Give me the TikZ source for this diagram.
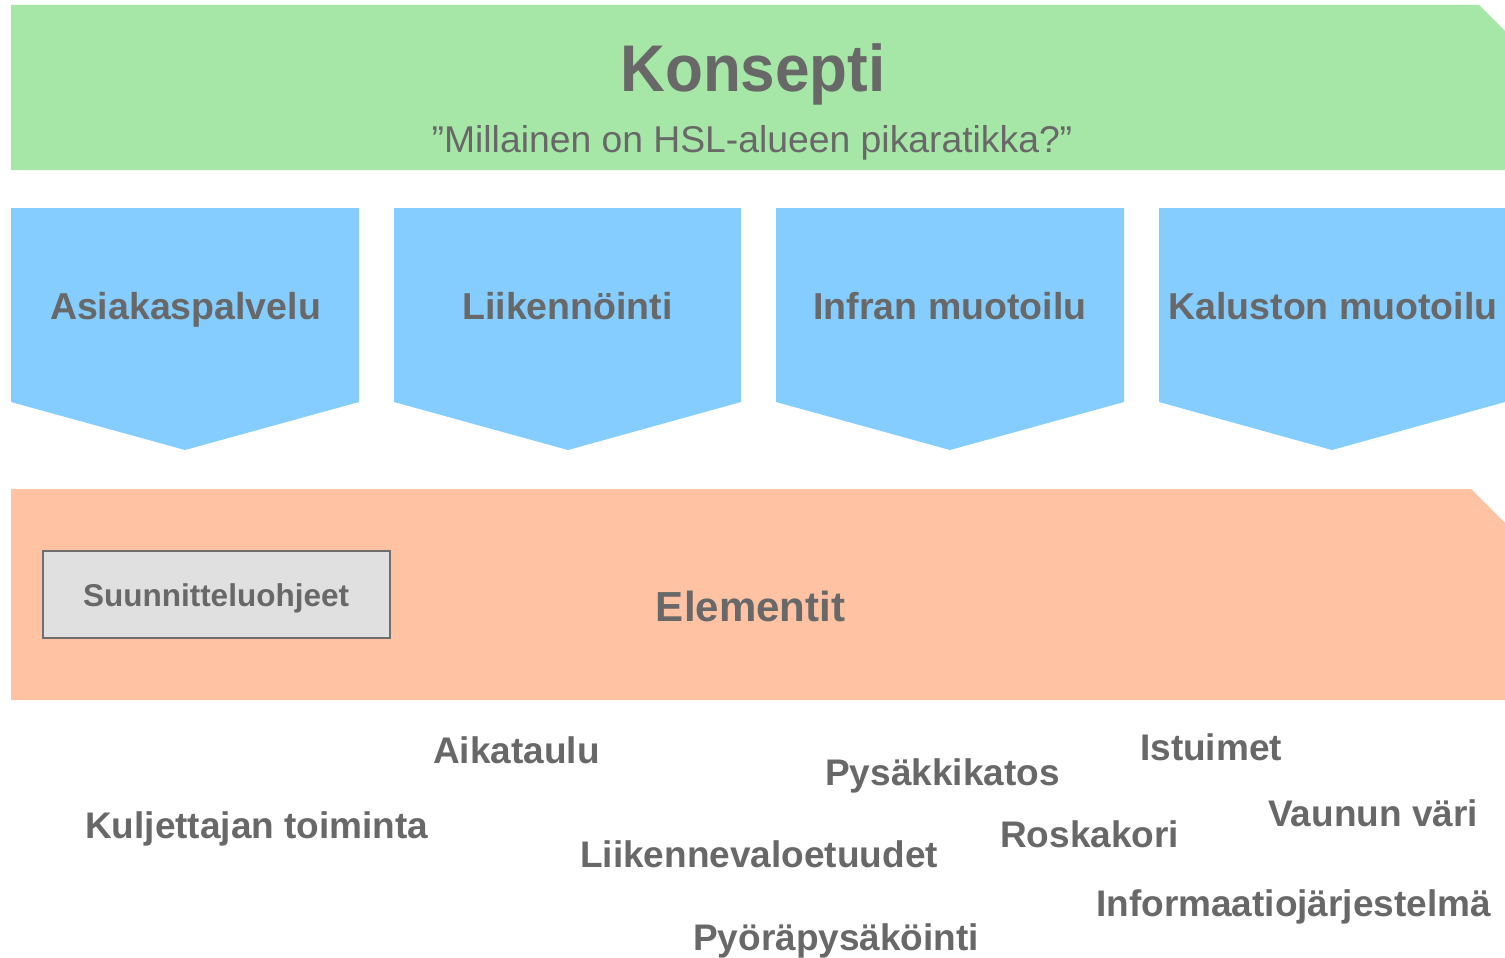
\documentclass[tikz,border=0pt]{standalone}
\usepackage{fontspec}
\setmainfont{Liberation Sans}
\definecolor{konsgreen}{HTML}{A6E6A6}
\definecolor{chevblue}{HTML}{85CCFF}
\definecolor{elemorange}{HTML}{FFC2A3}
\definecolor{boxgray}{HTML}{E0E0E0}
\definecolor{boxline}{HTML}{6E6E6E}
\definecolor{txtgray}{HTML}{686868}
\tikzset{
  lbl/.style={inner sep=0pt, text=txtgray, font=\bfseries\fontsize{37}{44}\selectfont, anchor=base west},
  chevlbl/.style={inner sep=0pt, text=txtgray, font=\bfseries\fontsize{37.5}{45}\selectfont, anchor=base},
  chev/.style={fill=chevblue, draw=none},
}
\begin{document}
\begin{tikzpicture}[x=1pt,y=-1pt]
\useasboundingbox[fill=white] (0,0) rectangle (1505,958);
% Konsepti banner
\fill[konsgreen] (11,5) -- (1479,5) -- (1505,31) -- (1505,170) -- (11,170) -- cycle;
\node[inner sep=0pt, text=txtgray, font=\bfseries\fontsize{66}{78}\selectfont, anchor=base, xscale=0.94] (konsepti) at (753,92) {Konsepti};
\node[inner sep=0pt, text=txtgray, font=\fontsize{37.3}{44}\selectfont, anchor=base] (kysymys) at (752,152) {”Millainen on HSL-alueen pikaratikka?”};
% chevrons
\fill[chev] (11,208) -- (359,208) -- (359,402) -- (185,450) -- (11,402) -- cycle;
\fill[chev] (394,208) -- (741,208) -- (741,402) -- (568,450) -- (394,402) -- cycle;
\fill[chev] (776,208) -- (1124,208) -- (1124,402) -- (950,450) -- (776,402) -- cycle;
\fill[chev] (1159,208) -- (1505,208) -- (1505,402) -- (1332,450) -- (1159,402) -- cycle;
\node[chevlbl] (asiakas) at (185.5,319) {Asiakaspalvelu};
\node[chevlbl] (liikenn) at (567.5,319) {Liikennöinti};
\node[chevlbl] (infra) at (950,319) {Infran muotoilu};
\node[chevlbl] (kalusto) at (1333,319) {Kaluston muotoilu};
% Elementit band
\fill[elemorange] (11,489) -- (1471,489) -- (1505,523) -- (1505,700) -- (11,700) -- cycle;
\node[inner sep=0pt, text=txtgray, font=\bfseries\fontsize{42}{50}\selectfont, anchor=base] (elementit) at (750.5,621) {Elementit};
\node[draw=boxline, line width=2pt, fill=boxgray, minimum width=347pt, minimum height=87pt, inner sep=0pt] (ohjeet) at (216.5,594.5) {};
\node[inner sep=0pt, text=txtgray, font=\bfseries\fontsize{31.5}{38}\selectfont, anchor=base] (ohjeetlbl) at (216,606) {Suunnitteluohjeet};
% elements
\node[lbl] (aikataulu) at (433,763) {Aikataulu};
\node[lbl] (kuljettaja) at (85,838) {Kuljettajan toiminta};
\node[lbl] (pysakki) at (825,785) {Pysäkkikatos};
\node[lbl] (liikvalo) at (580,867) {Liikennevaloetuudet};
\node[lbl] (pyora) at (693,950) {Pyöräpysäköinti};
\node[lbl] (istuimet) at (1140,760) {Istuimet};
\node[lbl] (roskakori) at (1000,847) {Roskakori};
\node[lbl] (vari) at (1268,826) {Vaunun väri};
\node[lbl] (info) at (1096,916) {Informaatiojärjestelmä};
\end{tikzpicture}
\end{document}
